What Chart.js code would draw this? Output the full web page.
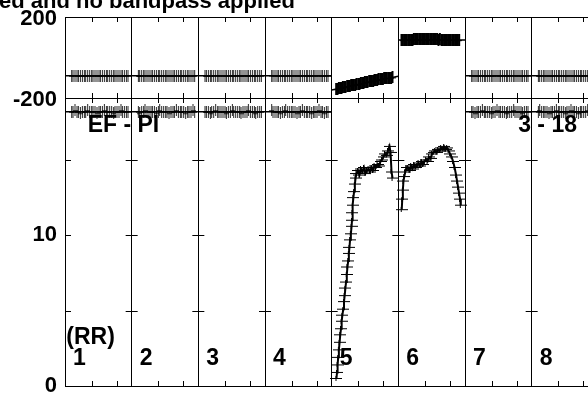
<!DOCTYPE html>
<html>
<head>
<meta charset="utf-8">
<script src="https://cdn.jsdelivr.net/npm/chart.js"></script>
<style>
  html, body { margin: 0; padding: 0; background: #fff; overflow: hidden; }
  #wrap { width: 588px; height: 393px; }
</style>
</head>
<body>
<div id="wrap"><canvas id="solChart" width="588" height="393"></canvas></div>
<script>
// --- data ---
const titleText = 'ed and no bandpass applied';
const segmentLabels = ['1', '2', '3', '4', '5', '6', '7', '8'];
const phaseTickLabels = ['200', '-200'];
const ampTickLabels = ['10', '0'];

// scan times inside a segment (fraction of the segment)
const scanTimes = [0.10, 0.12, 0.15, 0.18, 0.20, 0.23, 0.26, 0.29,
                   0.31, 0.34, 0.37, 0.40, 0.42, 0.45, 0.48, 0.51,
                   0.53, 0.56, 0.59, 0.62, 0.64, 0.67, 0.70, 0.73,
                   0.75, 0.78, 0.81, 0.84, 0.86, 0.89, 0.92, 0.945];

// phase (deg), flat segments
const phase1 = [-90, -90, -89, -90, -90, -91, -90, -90, -90, -89, -90, -90, -90, -90, -91, -90,
                -90, -90, -89, -90, -90, -90, -90, -91, -90, -90, -90, -89, -90, -90, -90, -90];
const phase2 = [-90, -91, -90, -90, -89, -90, -90, -90, -90, -90, -91, -90, -89, -90, -90, -90,
                -90, -91, -90, -90, -90, -89, -90, -90, -90, -90, -91, -90, -90, -90, -89, -90];
const phase3 = [-90, -90, -90, -91, -90, -90, -89, -90, -90, -90, -90, -90, -91, -90, -90, -89,
                -90, -90, -90, -90, -91, -90, -90, -90, -89, -90, -90, -90, -91, -90, -90, -90];
const phase4 = [-89, -90, -90, -90, -90, -91, -90, -90, -89, -90, -90, -90, -90, -90, -91, -90,
                -90, -89, -90, -90, -90, -90, -91, -90, -90, -90, -89, -90, -90, -91, -90, -90];
const phase7 = [-90, -90, -91, -90, -90, -90, -89, -90, -90, -90, -90, -91, -90, -90, -89, -90,
                -90, -90, -90, -91, -90, -90, -90, -89, -90, -90, -90, -90, -91, -90, -90, -90];
const phase8 = [-90, -89, -90, -90, -90, -90, -91, -90, -90, -90, -89, -90, -90, -90, -90, -91,
                -90, -90, -89, -90, -90, -90, -91, -90, -90, -90, -90, -89, -90, -90, -90, -91];

const phaseTimes5 = [0.075, 0.095, 0.115, 0.135, 0.155, 0.175, 0.195, 0.215, 0.24, 0.26, 0.28,
                     0.30, 0.32, 0.34, 0.36, 0.38, 0.405, 0.425, 0.445, 0.465, 0.485, 0.505,
                     0.525, 0.545, 0.57, 0.59, 0.61, 0.63, 0.65, 0.67, 0.69, 0.71, 0.735,
                     0.755, 0.775, 0.795, 0.815, 0.835, 0.86, 0.88, 0.90, 0.92];
const phase5 = [-156, -154, -153, -151, -150, -148, -147, -145, -143, -141, -140,
                -138, -137, -135, -134, -132, -130, -129, -127, -126, -124, -123,
                -121, -120, -118, -117, -115, -114, -112, -111, -110, -108, -107,
                -105, -104, -103, -102, -101, -100, -99, -99, -98];

const phaseTimes6 = [0.055, 0.075, 0.095, 0.115, 0.135, 0.16, 0.18, 0.20, 0.22, 0.24, 0.26,
                     0.28, 0.30, 0.325, 0.345, 0.365, 0.385, 0.405, 0.425, 0.445, 0.465,
                     0.49, 0.51, 0.53, 0.55, 0.57, 0.59, 0.61, 0.63, 0.655, 0.675, 0.695,
                     0.715, 0.735, 0.755, 0.775, 0.795, 0.82, 0.84, 0.86, 0.88, 0.90, 0.92];
const phase6 = [86, 86, 87, 87, 87, 88, 88, 88, 88, 89, 89, 89, 89, 89, 90, 89, 90, 90, 89, 90, 90,
                89, 90, 89, 89, 89, 89, 88, 89, 88, 88, 88, 88, 87, 88, 87, 87, 87, 86, 87, 86, 86, 86];

// model line for phase, start / end of each segment
const phaseFitStart = [-90, -90, -90, -90, -161, 87, -90, -90];
const phaseFitEnd = [-90, -90, -90, -90, -93, 87, -90, -90];

// amplitude, flat segments
const amp1 = [18.2, 18.2, 18.3, 18.2, 18.2, 18.1, 18.2, 18.2, 18.2, 18.3, 18.2, 18.2, 18.2, 18.2, 18.1, 18.2,
              18.2, 18.2, 18.3, 18.2, 18.2, 18.2, 18.2, 18.1, 18.2, 18.2, 18.2, 18.3, 18.2, 18.2, 18.2, 18.2];
const amp2 = [18.2, 18.1, 18.2, 18.2, 18.3, 18.2, 18.2, 18.2, 18.2, 18.2, 18.1, 18.2, 18.3, 18.2, 18.2, 18.2,
              18.2, 18.1, 18.2, 18.2, 18.2, 18.3, 18.2, 18.2, 18.2, 18.2, 18.1, 18.2, 18.2, 18.2, 18.3, 18.2];
const amp3 = [18.2, 18.2, 18.2, 18.1, 18.2, 18.2, 18.3, 18.2, 18.2, 18.2, 18.2, 18.2, 18.1, 18.2, 18.2, 18.3,
              18.2, 18.2, 18.2, 18.2, 18.1, 18.2, 18.2, 18.2, 18.3, 18.2, 18.2, 18.2, 18.1, 18.2, 18.2, 18.2];
const amp4 = [18.3, 18.2, 18.2, 18.2, 18.2, 18.1, 18.2, 18.2, 18.3, 18.2, 18.2, 18.2, 18.2, 18.2, 18.1, 18.2,
              18.2, 18.3, 18.2, 18.2, 18.2, 18.2, 18.1, 18.2, 18.2, 18.2, 18.3, 18.2, 18.2, 18.1, 18.2, 18.2];
const amp7 = [18.2, 18.2, 18.1, 18.2, 18.2, 18.2, 18.3, 18.2, 18.2, 18.2, 18.2, 18.1, 18.2, 18.2, 18.3, 18.2,
              18.2, 18.2, 18.2, 18.1, 18.2, 18.2, 18.2, 18.3, 18.2, 18.2, 18.2, 18.2, 18.1, 18.2, 18.2, 18.2];
const amp8 = [18.2, 18.3, 18.2, 18.2, 18.2, 18.2, 18.1, 18.2, 18.2, 18.2, 18.3, 18.2, 18.2, 18.2, 18.2, 18.1,
              18.2, 18.2, 18.3, 18.2, 18.2, 18.2, 18.1, 18.2, 18.2, 18.2, 18.2, 18.3, 18.2, 18.2, 18.2, 18.1];
const ampFitLevel = [18.2, 18.2, 18.2, 18.2, null, null, 18.2, 18.2];

// amplitude, segments 5 and 6
const ampTimes5 = [0.072, 0.080, 0.089, 0.098, 0.108, 0.119, 0.129, 0.140, 0.150, 0.161,
                   0.174, 0.185, 0.195, 0.206, 0.216, 0.227, 0.237, 0.248, 0.258, 0.267,
                   0.276, 0.288, 0.299, 0.305, 0.311, 0.318, 0.326, 0.336, 0.348, 0.359,
                   0.372, 0.395, 0.417, 0.440, 0.462, 0.485, 0.507, 0.530, 0.553, 0.575,
                   0.598, 0.620, 0.643, 0.665, 0.688, 0.710, 0.733, 0.755, 0.778, 0.800,
                   0.823, 0.845, 0.868, 0.883, 0.898, 0.913];
const amp5 = [0.5, 0.9, 1.4, 1.9, 2.4, 2.9, 3.4, 3.8, 4.3, 4.7,
              5.1, 5.6, 6.0, 6.5, 6.9, 7.4, 7.9, 8.3, 8.8, 9.2,
              9.7, 10.1, 10.6, 11.0, 11.5, 12.0, 12.5, 12.9, 13.4, 13.8,
              14.1, 14.3, 14.0, 14.4, 14.2, 14.5, 14.1, 14.3, 14.4, 14.2,
              14.5, 14.3, 14.6, 14.5, 14.7, 14.6, 14.9, 15.0, 15.2, 15.4,
              15.3, 15.6, 15.9, 15.5, 14.2, 13.8];
const ampTimes6 = [0.051, 0.059, 0.068, 0.077, 0.089, 0.104, 0.123, 0.146, 0.168, 0.191,
                   0.213, 0.236, 0.258, 0.281, 0.303, 0.326, 0.348, 0.371, 0.393, 0.416,
                   0.438, 0.461, 0.483, 0.506, 0.529, 0.551, 0.574, 0.596, 0.619, 0.641,
                   0.664, 0.686, 0.709, 0.731, 0.754, 0.776, 0.799, 0.821, 0.844, 0.866,
                   0.881, 0.896, 0.911, 0.926, 0.937];
const amp6 = [11.7, 12.4, 13.0, 13.6, 13.9, 14.2, 14.5, 14.5, 14.3, 14.6,
              14.4, 14.7, 14.5, 14.6, 14.8, 14.6, 14.9, 14.7, 14.9, 15.0,
              14.9, 15.2, 15.1, 15.4, 15.5, 15.6, 15.5, 15.7, 15.6, 15.8,
              15.7, 15.9, 15.7, 15.8, 15.6, 15.4, 15.2, 14.9, 14.5, 14.0,
              13.6, 13.2, 12.8, 12.4, 12.0];

const minorTickOffsets = [0.4, 0.775];
const ampCrossTicks = [5, 10, 15];

// --- build datasets ---
const segPhase = [phase1, phase2, phase3, phase4, phase5, phase6, phase7, phase8];
const segPhaseTimes = [scanTimes, scanTimes, scanTimes, scanTimes, phaseTimes5, phaseTimes6, scanTimes, scanTimes];
const segAmp = [amp1, amp2, amp3, amp4, null, null, amp7, amp8];

const phasePoints = [];
const phaseSlewPoints = [];
const phaseFitPoints = [];
const ampFlatPoints = [];
const ampFitPoints = [];
segmentLabels.forEach((lab, s) => {
  const target = segAmp[s] ? phasePoints : phaseSlewPoints;
  segPhaseTimes[s].forEach((t, i) => target.push({ x: s + t, y: segPhase[s][i] }));
  phaseFitPoints.push({ x: s, y: phaseFitStart[s] }, { x: s + 1, y: phaseFitEnd[s] }, { x: s + 1, y: null });
  if (segAmp[s]) {
    scanTimes.forEach((t, i) => ampFlatPoints.push({ x: s + t, y: segAmp[s][i] }));
  }
  if (ampFitLevel[s] !== null) {
    ampFitPoints.push({ x: s, y: ampFitLevel[s] }, { x: s + 1, y: ampFitLevel[s] }, { x: s + 1, y: null });
  }
});
const amp5Points = ampTimes5.map((t, i) => ({ x: 4 + t, y: amp5[i] }));
const amp6Points = ampTimes6.map((t, i) => ({ x: 5 + t, y: amp6[i] }));

// marker glyphs
function makeCross(w, h, barW, color) {
  const c = document.createElement('canvas');
  c.width = w;
  c.height = h;
  const g = c.getContext('2d');
  g.fillStyle = color;
  g.fillRect(Math.floor((w - barW) / 2), 0, barW, h);
  g.fillRect(0, Math.floor(h / 2), w, 1);
  return c;
}
const tallCross = makeCross(5, 12, 1, 'rgba(0,0,0,0.85)');
const boldCross = makeCross(5, 12, 2, '#000');
const wideCross = makeCross(12, 5, 1, '#000');

const FONT = '"Liberation Sans", Arial, Helvetica, sans-serif';
Chart.defaults.font.family = FONT;
Chart.defaults.color = '#000';

// ticks, segment numbers and labels
const panelDecor = {
  id: 'panelDecor',
  afterDatasetsDraw(chart) {
    const { ctx, chartArea: area } = chart;
    const x = chart.scales.x, yPhase = chart.scales.yPhase, yAmp = chart.scales.yAmp;
    ctx.save();
    ctx.strokeStyle = '#000';
    ctx.lineWidth = 1;
    ctx.beginPath();
    for (let s = 0; s <= segmentLabels.length; s++) {
      const px = x.getPixelForValue(s);
      if (px <= area.right) {
        ampCrossTicks.forEach(v => {
          const py = Math.round(yAmp.getPixelForValue(v)) + 0.5;
          ctx.moveTo(Math.max(area.left, px - 6), py);
          ctx.lineTo(Math.min(area.right, px + 6), py);
        });
      }
      minorTickOffsets.forEach(o => {
        const mx = Math.round(x.getPixelForValue(s + o)) + 0.5;
        if (mx > area.right) return;
        ctx.moveTo(mx, yPhase.top);
        ctx.lineTo(mx, yPhase.top + 5);
        ctx.moveTo(mx, yPhase.bottom - 5);
        ctx.lineTo(mx, yPhase.bottom + 5);
        ctx.moveTo(mx, area.bottom);
        ctx.lineTo(mx, area.bottom - 5);
      });
    }
    ctx.stroke();

    ctx.fillStyle = '#000';
    ctx.font = 'bold 23px ' + FONT;
    ctx.textBaseline = 'alphabetic';
    ctx.textAlign = 'left';
    segmentLabels.forEach((lab, s) => {
      ctx.fillText(lab, x.getPixelForValue(s + 0.12), yAmp.getPixelForValue(1.39));
    });
    ctx.fillText('(RR)', x.getPixelForValue(0.02), yAmp.getPixelForValue(2.79));
    ctx.fillText('EF - PI', x.getPixelForValue(0.34), yAmp.getPixelForValue(16.85));
    ctx.textAlign = 'right';
    ctx.fillText('3 - 18', x.getPixelForValue(7.68), yAmp.getPixelForValue(16.85));

    // title, cut off at the left and top like the original
    ctx.font = 'bold 22px ' + FONT;
    ctx.textAlign = 'left';
    ctx.fillText(titleText, -1, 8.3);
    ctx.restore();
  }
};

const axisWidth = 65;
new Chart(document.getElementById('solChart'), {
  type: 'scatter',
  data: {
    datasets: [
      { label: 'phase', yAxisID: 'yPhase', data: phasePoints, pointStyle: tallCross, showLine: false },
      { label: 'phase 5-6', yAxisID: 'yPhase', data: phaseSlewPoints, pointStyle: boldCross, showLine: false },
      { label: 'phase model', yAxisID: 'yPhase', data: phaseFitPoints, showLine: true, pointRadius: 0,
        borderColor: '#000', borderWidth: 1.5, spanGaps: false },
      { label: 'amplitude', yAxisID: 'yAmp', data: ampFlatPoints, pointStyle: tallCross, showLine: false },
      { label: 'amplitude model', yAxisID: 'yAmp', data: ampFitPoints, showLine: true, pointRadius: 0,
        borderColor: '#000', borderWidth: 1.5, spanGaps: false },
      { label: 'amplitude 5', yAxisID: 'yAmp', data: amp5Points, pointStyle: wideCross, showLine: true,
        borderColor: '#000', borderWidth: 2 },
      { label: 'amplitude 6', yAxisID: 'yAmp', data: amp6Points, pointStyle: wideCross, showLine: true,
        borderColor: '#000', borderWidth: 2 }
    ]
  },
  options: {
    responsive: false,
    animation: false,
    events: [],
    layout: { autoPadding: false, padding: { top: 17, left: 0, right: 0, bottom: 7 } },
    plugins: {
      legend: { display: false },
      tooltip: { enabled: false },
      title: { display: false }
    },
    scales: {
      x: {
        type: 'linear',
        min: 0,
        max: 7.845,
        ticks: { display: false, stepSize: 1, includeBounds: false },
        grid: { color: '#000', lineWidth: 1, drawTicks: false },
        border: { display: true, color: '#000', width: 1 },
        afterFit: (axis) => { axis.height = 0; axis.paddingLeft = 0; axis.paddingRight = 0; }
      },
      yAmp: {
        type: 'linear',
        position: 'left',
        stack: 'panels',
        stackWeight: 288,
        min: 0,
        max: 19.11,
        ticks: {
          stepSize: 5,
          includeBounds: false,
          padding: 8,
          font: { size: 22, weight: 'bold' },
          callback: (v) => ampTickLabels.includes(String(v)) ? String(v) : ''
        },
        grid: { display: false, drawTicks: false },
        border: { display: true, color: '#000', width: 1 },
        afterFit: (axis) => { axis.width = axisWidth; axis.paddingTop = 0; axis.paddingBottom = 0; }
      },
      yPhase: {
        type: 'linear',
        position: 'left',
        stack: 'panels',
        stackWeight: 81,
        min: -200,
        max: 200,
        ticks: {
          stepSize: 200,
          padding: 8,
          labelOffset: 2,
          font: { size: 22, weight: 'bold' },
          callback: (v) => phaseTickLabels.includes(String(v)) ? String(v) : ''
        },
        grid: { color: '#000', lineWidth: 1, drawTicks: false },
        border: { display: true, color: '#000', width: 1 },
        afterFit: (axis) => { axis.width = axisWidth; axis.paddingTop = 0; axis.paddingBottom = 0; }
      }
    }
  },
  plugins: [panelDecor]
});
</script>
</body>
</html>
